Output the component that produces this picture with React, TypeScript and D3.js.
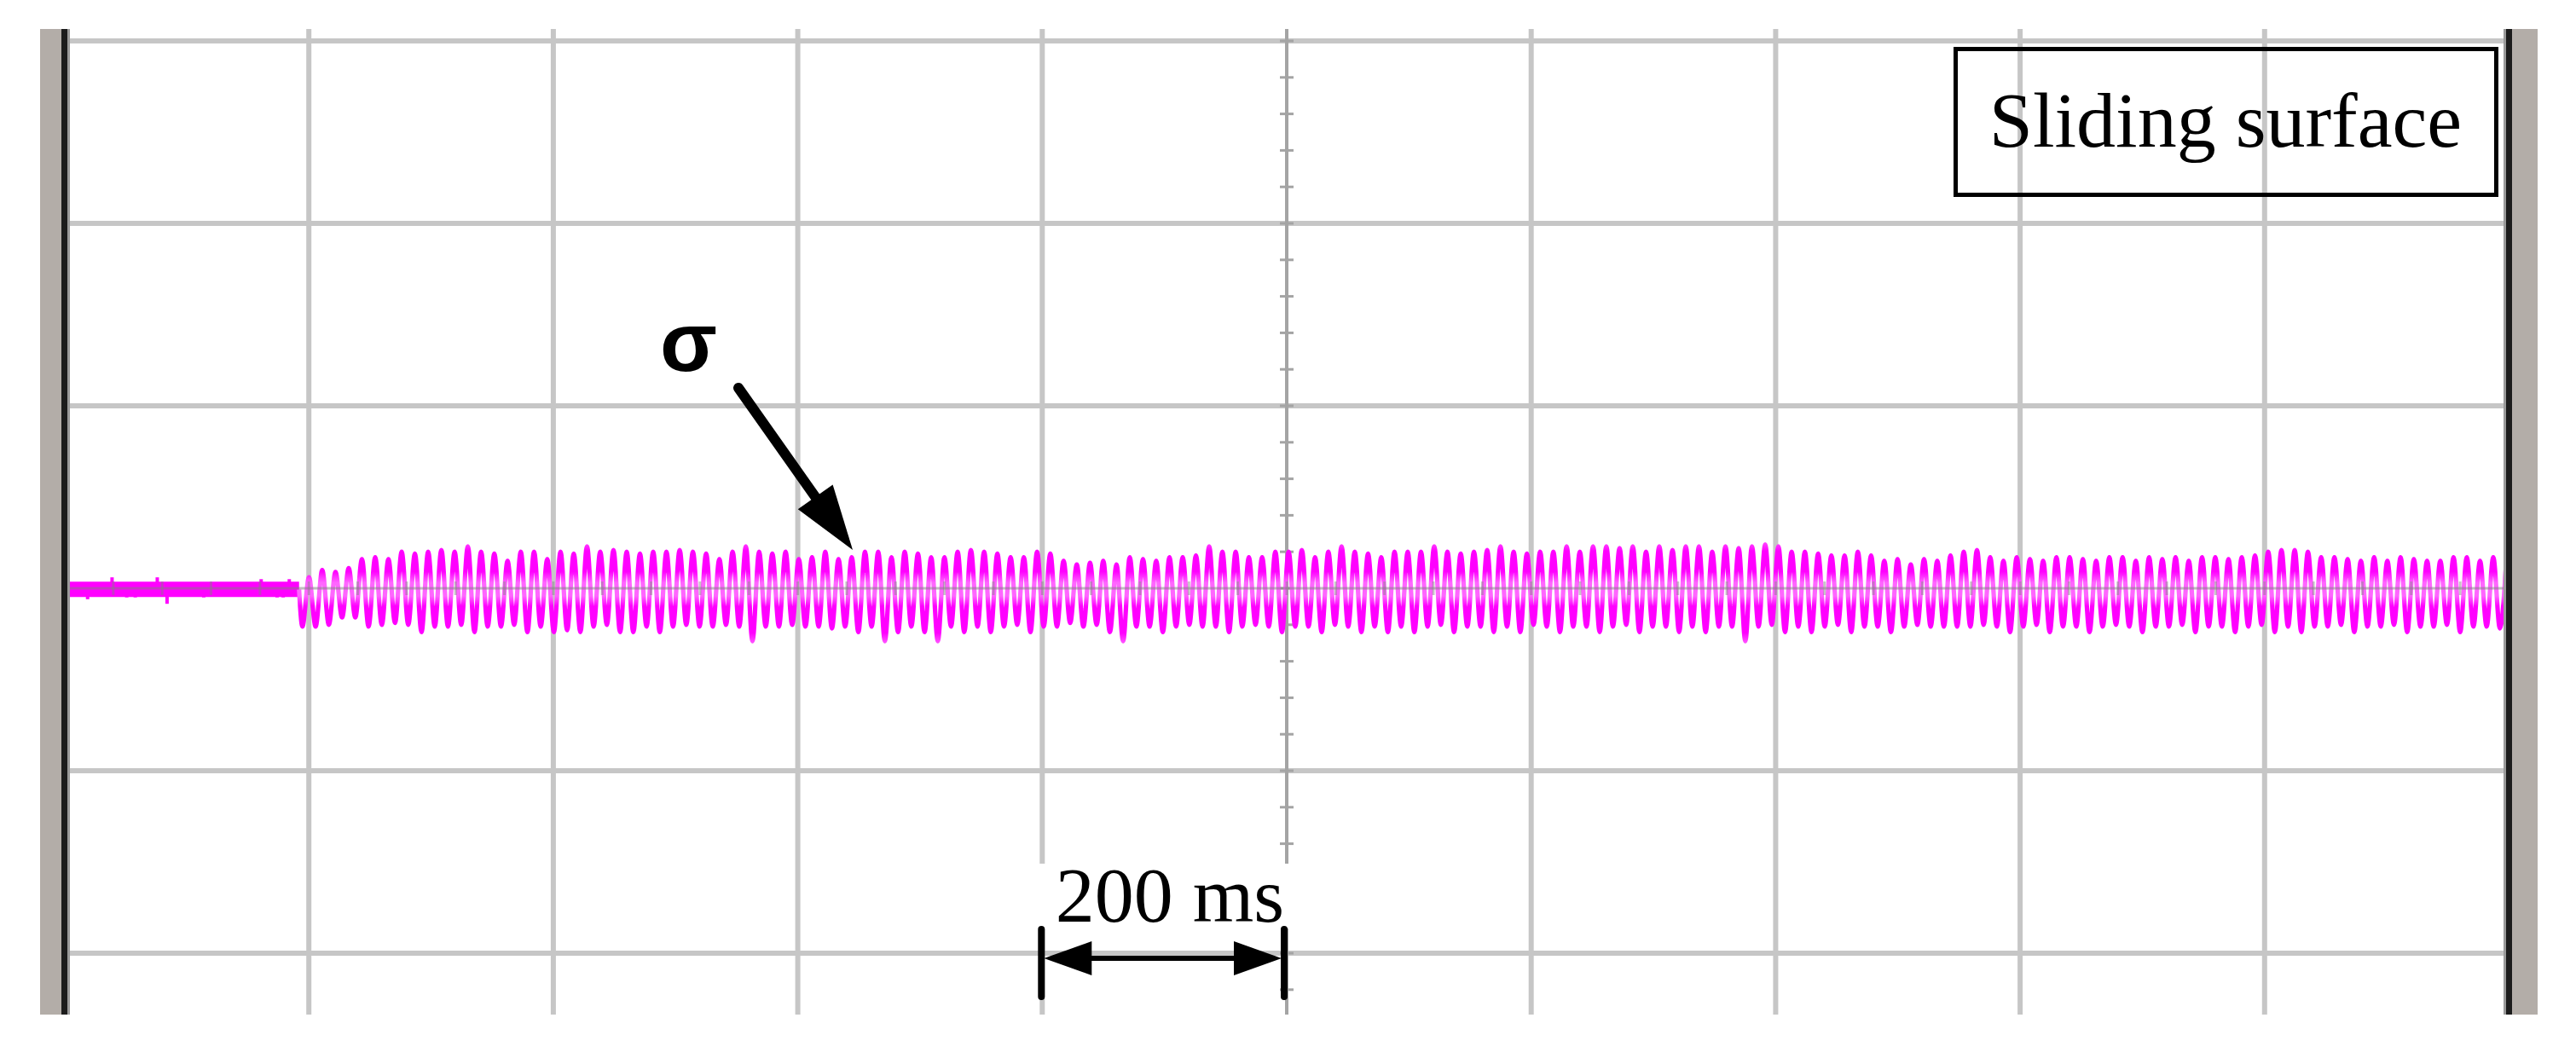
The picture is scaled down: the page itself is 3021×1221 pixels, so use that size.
import React from 'react';
import * as d3 from 'd3';

const W = 3021;
const H = 1221;

// scope screen: 10 divisions of 200 ms, vertical in divisions (0 = trace centre)
const timeGrid = [200, 400, 600, 800, 1200, 1400, 1600, 1800];
const divGrid = [-2, -1, 1, 2, 3];
const centreTime = 1000;

// pre-trigger flat part of the trace
const preTriggerMs = [0, 192];
const preTriggerLevel = [-0.006, -0.006];
const spikeMs = [19, 39, 51, 58, 76, 84, 114, 161, 174, 179, 184];
const spikeVals = [-0.06, 0.06, -0.05, -0.05, 0.06, -0.085, -0.05, 0.05, -0.05, -0.05, 0.05];

// sliding surface sigma: one max / min per ripple cycle, in divisions
const sigmaStartMs = 192;
const sigmaPeriodMs = 10.83;
const sigmaHigh = [
  0.06, 0.10, 0.09, 0.11, 0.16, 0.17, 0.16, 0.20, 0.19, 0.20, 0.21, 0.20, 0.23, 0.20, 0.19, 0.15, 0.20, 0.20, 0.16, 0.20,
  0.19, 0.23, 0.20, 0.21, 0.20, 0.19, 0.20, 0.20, 0.21, 0.20, 0.19, 0.16, 0.20, 0.23, 0.20, 0.19, 0.20, 0.16, 0.17, 0.20, 0.16,
  0.17, 0.20, 0.20, 0.17, 0.20, 0.19, 0.17, 0.17, 0.20, 0.21, 0.20, 0.19, 0.17, 0.17, 0.20, 0.19, 0.15, 0.13, 0.14, 0.15,
  0.13, 0.17, 0.16, 0.15, 0.17, 0.17, 0.18, 0.23, 0.20, 0.20, 0.17, 0.17, 0.20, 0.20, 0.21, 0.17, 0.20, 0.23, 0.20, 0.19, 0.17, 0.20,
  0.20, 0.20, 0.23, 0.20, 0.19, 0.20, 0.21, 0.23, 0.20, 0.19, 0.20, 0.20, 0.23, 0.20, 0.23, 0.23, 0.22, 0.23, 0.20, 0.23,
  0.21, 0.23, 0.23, 0.20, 0.23, 0.22, 0.23, 0.24, 0.23, 0.20, 0.20, 0.19, 0.18, 0.18, 0.20, 0.18, 0.15, 0.16, 0.13, 0.16, 0.15, 0.18,
  0.20, 0.21, 0.17, 0.15, 0.17, 0.16, 0.15, 0.17, 0.17, 0.16, 0.15, 0.17, 0.17, 0.15, 0.17, 0.16, 0.17, 0.15, 0.17, 0.17,
  0.16, 0.17, 0.18, 0.20, 0.21, 0.21, 0.20, 0.17, 0.17, 0.16, 0.15, 0.17, 0.15, 0.17, 0.16, 0.15, 0.15, 0.17, 0.17, 0.15, 0.17, 0.17,
];
const sigmaLow = [
  -0.21, -0.21, -0.20, -0.16, -0.16, -0.21, -0.20, -0.19, -0.20, -0.24, -0.21, -0.21, -0.20, -0.24, -0.21, -0.21, -0.20, -0.24, -0.21, -0.24,
  -0.23, -0.24, -0.21, -0.20, -0.24, -0.24, -0.21, -0.24, -0.21, -0.20, -0.21, -0.21, -0.20, -0.21, -0.29, -0.21, -0.21, -0.20, -0.21, -0.21, -0.22,
  -0.21, -0.24, -0.21, -0.29, -0.24, -0.21, -0.24, -0.29, -0.21, -0.24, -0.21, -0.24, -0.21, -0.20, -0.24, -0.21, -0.21, -0.19, -0.21, -0.20,
  -0.24, -0.29, -0.21, -0.21, -0.24, -0.21, -0.20, -0.21, -0.21, -0.24, -0.21, -0.20, -0.21, -0.24, -0.21, -0.21, -0.24, -0.20, -0.21, -0.24, -0.21, -0.24,
  -0.21, -0.24, -0.21, -0.20, -0.24, -0.21, -0.21, -0.24, -0.21, -0.24, -0.20, -0.21, -0.24, -0.21, -0.21, -0.24, -0.21, -0.20, -0.24, -0.21,
  -0.21, -0.24, -0.21, -0.24, -0.21, -0.21, -0.29, -0.21, -0.20, -0.24, -0.21, -0.24, -0.21, -0.20, -0.24, -0.21, -0.21, -0.24, -0.21, -0.20, -0.21, -0.21,
  -0.21, -0.21, -0.20, -0.21, -0.24, -0.21, -0.20, -0.24, -0.21, -0.21, -0.24, -0.21, -0.20, -0.21, -0.24, -0.21, -0.21, -0.20, -0.24, -0.21,
  -0.21, -0.24, -0.21, -0.20, -0.24, -0.21, -0.24, -0.21, -0.21, -0.20, -0.24, -0.21, -0.21, -0.20, -0.24, -0.21, -0.21, -0.20, -0.24, -0.21, -0.21, -0.22,
];

const MAGENTA = '#ff00ff';
const GRID = '#c6c6c6';
const serif = '"Liberation Serif", "Times New Roman", serif';

const App = () => {
  const x = d3.scaleLinear().domain([0, 2000]).range([75.5, 2942.5]);
  const y = d3.scaleLinear().domain([0, 1]).range([690, 476]);
  const top = 34;
  const bottom = 1190;

  // ripple peaks in time order (min first, then max, each cycle)
  const pts: { t: number; v: number }[] = [{ t: sigmaStartMs, v: -0.006 }];
  sigmaHigh.forEach((hi, i) => {
    pts.push({ t: sigmaStartMs + (i + 0.25) * sigmaPeriodMs, v: sigmaLow[i] });
    pts.push({ t: sigmaStartMs + (i + 0.75) * sigmaPeriodMs, v: hi });
  });
  const line = d3.line<{ t: number; v: number }>()
    .x(d => x(d.t))
    .y(d => y(d.v))
    .curve(d3.curveMonotoneX);

  const flat = preTriggerMs.map((t, i) => ({ t, v: preTriggerLevel[i] }));
  const flatLine = d3.line<{ t: number; v: number }>().x(d => x(d.t)).y(d => y(d.v));

  // minor ticks on the centre cross
  const vMinor = d3.range(-11, 16).map(k => k * 0.2).filter(v => y(v) > top && y(v) < bottom);
  const hMinor = d3.range(1, 50).map(k => k * 40);

  const x800 = x(800);
  const x1000 = x(1000);
  const barY = 1124;

  // sigma arrow geometry
  const a0 = [866, 455];
  const tip = [1000, 645];
  const len = Math.hypot(tip[0] - a0[0], tip[1] - a0[1]);
  const ux = (tip[0] - a0[0]) / len;
  const uy = (tip[1] - a0[1]) / len;
  const bx = tip[0] - ux * 76;
  const by = tip[1] - uy * 76;

  return (
    <svg width={W} height={H} style={{ position: 'absolute', left: 0, top: 0, display: 'block', background: '#fff' }}>
      <defs>
        <linearGradient id="traceShade" gradientUnits="userSpaceOnUse" x1={0} x2={0} y1={y(0.26)} y2={y(-0.3)}>
          <stop offset="0" stopColor="#ff55ff" />
          <stop offset="0.1" stopColor={MAGENTA} />
          <stop offset="0.3" stopColor={MAGENTA} />
          <stop offset="0.41" stopColor="#ff66ff" />
          <stop offset="0.54" stopColor="#ff66ff" />
          <stop offset="0.64" stopColor={MAGENTA} />
          <stop offset="0.9" stopColor={MAGENTA} />
          <stop offset="1" stopColor="#ff55ff" />
        </linearGradient>
      </defs>
      <rect x={0} y={0} width={W} height={H} fill="#fff" />

      {/* grid */}
      {timeGrid.map(t => (
        <line key={'v' + t} x1={x(t)} x2={x(t)} y1={top} y2={bottom} stroke={GRID} strokeWidth={6} />
      ))}
      {divGrid.map(v => (
        <line key={'h' + v} x1={x(0)} x2={x(2000)} y1={y(v)} y2={y(v)} stroke={GRID} strokeWidth={6} />
      ))}
      <line x1={x(centreTime)} x2={x(centreTime)} y1={top} y2={bottom} stroke="#a4a4a4" strokeWidth={4} />
      {vMinor.map(v => (
        <line key={'vm' + v} x1={x(centreTime) - 8} x2={x(centreTime) + 8} y1={y(v)} y2={y(v)} stroke="#a4a4a4" strokeWidth={3} />
      ))}

      {/* trace */}
      <path d={flatLine(flat) ?? ''} fill="none" stroke={MAGENTA} strokeWidth={18} />
      {spikeMs.map((t, i) => (
        <line key={'s' + i} x1={x(t)} x2={x(t)} y1={y(0)} y2={y(spikeVals[i])} stroke={MAGENTA} strokeWidth={4} />
      ))}
      <path d={line(pts) ?? ''} fill="none" stroke="url(#traceShade)" strokeWidth={5.2} />

      {/* centre horizontal line shows through */}
      <line x1={x(0)} x2={x(2000)} y1={y(0)} y2={y(0)} stroke="#808080" strokeOpacity={0.5} strokeWidth={3} />
      {hMinor.map(t => (
        <line key={'hm' + t} x1={x(t)} x2={x(t)} y1={y(0) - 8} y2={y(0) + 8} stroke="#808080" strokeOpacity={0.45} strokeWidth={3} />
      ))}

      {/* screen edges */}
      <rect x={47} y={top} width={25} height={bottom - top} fill="#b3ada8" />
      <rect x={x(0) - 3.5} y={top} width={7} height={bottom - top} fill="#1c1c1c" />
      <rect x={x(0) + 3.5} y={top} width={3} height={bottom - top} fill="#9a9a9a" />
      <rect x={x(2000) + 3.5} y={top} width={30} height={bottom - top} fill="#b3ada8" />
      <rect x={x(2000) - 3.5} y={top} width={7} height={bottom - top} fill="#1c1c1c" />
      <rect x={x(2000) - 6.5} y={top} width={3} height={bottom - top} fill="#9a9a9a" />

      {/* legend box */}
      <rect x={2293.5} y={57.5} width={634} height={171} fill="none" stroke="#000" strokeWidth={5} />
      <text x={2610} y={172} textAnchor="middle" fontFamily={serif} fontSize={92} fill="#000">Sliding surface</text>

      {/* sigma label and arrow */}
      <text x={774} y={435} fontFamily='"Liberation Sans", Arial, sans-serif' fontWeight="bold" fontSize={98} fill="#000">σ</text>
      <line x1={a0[0]} y1={a0[1]} x2={bx} y2={by} stroke="#000" strokeWidth={12} strokeLinecap="round" />
      <polygon
        points={`${tip[0]},${tip[1]} ${bx - uy * 25},${by + ux * 25} ${bx + uy * 25},${by - ux * 25}`}
        fill="#000"
      />

      {/* 200 ms scale bar */}
      <rect x={x800 - 8} y={1013} width={x1000 - x800 + 20} height={76} fill="#fff" />
      <text x={1372} y={1081} textAnchor="middle" fontFamily={serif} fontSize={92} fill="#000">200 ms</text>
      <line x1={x800 - 1} x2={x800 - 1} y1={1090} y2={1169} stroke="#000" strokeWidth={8} strokeLinecap="round" />
      <line x1={x1000 - 3} x2={x1000 - 3} y1={1090} y2={1169} stroke="#000" strokeWidth={8} strokeLinecap="round" />
      <line x1={x800 + 40} x2={x1000 - 40} y1={barY} y2={barY} stroke="#000" strokeWidth={6} />
      <polygon points={`${x800 + 2},${barY} ${x800 + 58},${barY - 20} ${x800 + 58},${barY + 20}`} fill="#000" />
      <polygon points={`${x1000 - 6},${barY} ${x1000 - 62},${barY - 20} ${x1000 - 62},${barY + 20}`} fill="#000" />
    </svg>
  );
};

export default App;
